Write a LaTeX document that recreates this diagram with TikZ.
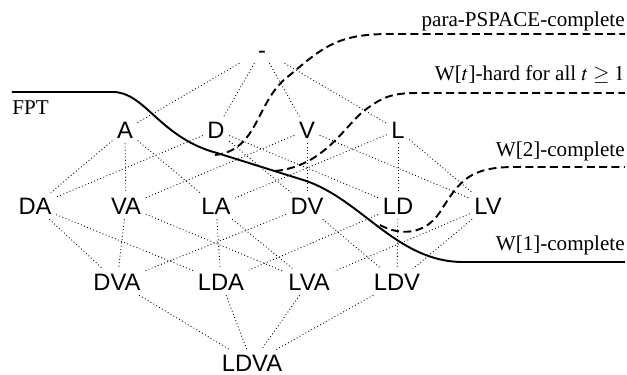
\documentclass[tikz,border=0pt]{standalone}
\usepackage{mathptmx}
\usepackage{fontspec}
\setmainfont{Liberation Serif}
\setsansfont{Liberation Sans}
\usetikzlibrary{positioning}

\begin{document}
\begin{tikzpicture}[x=0.02cm, y=-0.02cm, font=\fontsize{12}{14}\selectfont]
    \tikzstyle{lat}=[font=\sffamily\fontsize{13.5}{16}\selectfont, text height=9.7pt, text depth=0pt, inner sep=2.5pt]
    \tikzstyle{order}=[line width=0.5pt, dash pattern=on 0.5pt off 1.4pt]
    \tikzstyle{border}=[line width=1.1pt]
    \tikzstyle{hard}=[line width=1.1pt, dash pattern=on 4.5pt off 2.5pt]
    \tikzstyle{cls}=[anchor=base east, inner sep=0pt]

    \useasboundingbox (0,0) rectangle (627,375);

    % lattice of parameter combinations
    \node[lat, minimum width=1cm] (e) at (262,50) {-};
    \node[lat] (A) at (125,130) {A};
    \node[lat] (D) at (216,130) {D};
    \node[lat] (V) at (307,130) {V};
    \node[lat] (L) at (398,130) {L};
    \node[lat] (DA) at (35,206) {DA};
    \node[lat] (VA) at (126,206) {VA};
    \node[lat] (LA) at (216,206) {LA};
    \node[lat] (DV) at (307,206) {DV};
    \node[lat] (LD) at (398,206) {LD};
    \node[lat] (LV) at (488,206) {LV};
    \node[lat] (DVA) at (117,282) {DVA};
    \node[lat] (LDA) at (221,282) {LDA};
    \node[lat] (LVA) at (309,282) {LVA};
    \node[lat] (LDV) at (397,282) {LDV};
    \node[lat] (LDVA) at (252,363) {LDVA};

    \foreach \a/\b in {e/A, e/D, e/V, e/L,
        A/DA, A/VA, A/LA, D/DA, D/DV, D/LD, V/VA, V/DV, V/LV, L/LA, L/LD, L/LV,
        DA/DVA, DA/LDA, VA/DVA, VA/LVA, LA/LDA, LA/LVA,
        DV/DVA, DV/LDV, LD/LDA, LD/LDV, LV/LVA, LV/LDV,
        DVA/LDVA, LDA/LDVA, LVA/LDVA, LDV/LDVA}
        \draw[order] (\a) -- (\b);

    % complexity borders
    \coordinate (fptend) at (12,92);
    \coordinate (w1end) at (625,262);
    \coordinate (w2end) at (625,167);
    \coordinate (wtend) at (625,93);
    \coordinate (psend) at (625,34);

    \draw[border] (fptend) -- (113,92) .. controls (145,92) and (160,138) .. (217,153)
        -- (300,179) .. controls (360,196) and (395,262) .. (463,262) -- (w1end);
    \draw[hard] (215,155) .. controls (260,150) and (255,100) .. (290,75)
        .. controls (325,45) and (340,34) .. (390,34) -- (psend);
    \draw[hard] (275,171) .. controls (325,166) and (345,125) .. (365,110)
        .. controls (385,95) and (395,93) .. (420,93) -- (wtend);
    \draw[hard] (380,225) .. controls (400,236) and (425,235) .. (440,212)
        .. controls (460,180) and (470,167) .. (515,167) -- (w2end);

    \node[anchor=base west, inner sep=0pt] (fpt) at (12,115) {FPT};
    \node[cls] (w1) at (625,251) {W[1]-complete};
    \node[cls] (w2) at (625,157) {W[2]-complete};
    \node[cls] (wt) at (625,81) {W[$t$]-hard for all $t \geq 1$};
    \node[cls] (ps) at (625,27) {para-PSPACE-complete};
\end{tikzpicture}
\end{document}
